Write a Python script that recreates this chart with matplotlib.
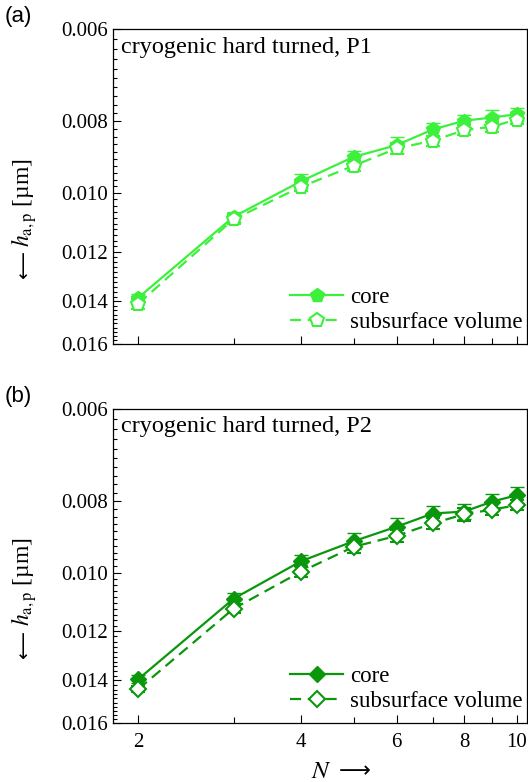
import matplotlib
matplotlib.use("Agg")
import matplotlib.pyplot as plt
from matplotlib.lines import Line2D
from matplotlib.ticker import FixedLocator, NullFormatter, FormatStrFormatter

plt.rcParams['font.family'] = ['Liberation Serif', 'DejaVu Serif']
plt.rcParams['mathtext.fontset'] = 'stix'

N = [2, 3, 4, 5, 6, 7, 8, 9, 10]

# panel (a) P1
core_a = [0.01385, 0.01077, 0.00964, 0.00894, 0.00862, 0.00821, 0.00799, 0.00791, 0.00783]
core_a_err = [0.00014, 0.00017, 0.00020, 0.00017, 0.00021, 0.00017, 0.00015, 0.00018, 0.00016]
sub_a = [0.01411, 0.01085, 0.00981, 0.00919, 0.00871, 0.00850, 0.00823, 0.00814, 0.00796]
sub_a_err = [0.00022, 0.00017, 0.00013, 0.00014, 0.00014, 0.00013, 0.00013, 0.00013, 0.00012]

# panel (b) P2
core_b = [0.01394, 0.01085, 0.00965, 0.00907, 0.00867, 0.00832, 0.00827, 0.00802, 0.00786]
core_b_err = [0.00018, 0.00019, 0.00019, 0.00023, 0.00022, 0.00019, 0.00020, 0.00020, 0.00019]
sub_b = [0.01438, 0.01119, 0.00997, 0.00923, 0.00892, 0.00858, 0.00834, 0.00822, 0.00811]
sub_b_err = [0.00015, 0.00017, 0.00018, 0.00017, 0.00016, 0.00015, 0.00017, 0.00014, 0.00013]

yticks = [0.006, 0.008, 0.010, 0.012, 0.014, 0.016]
yminor = [0.006 + 0.0002 * i for i in range(51)]
xticks = [2, 4, 6, 8, 10]
xminor = [3, 5, 7, 9]

panels = [
    dict(core=core_a, core_err=core_a_err, sub=sub_a, sub_err=sub_a_err,
         color='#3cf03c', marker='p', ms=10.5, title='cryogenic hard turned, P1', tag='(a)'),
    dict(core=core_b, core_err=core_b_err, sub=sub_b, sub_err=sub_b_err,
         color='#0b970b', marker='D', ms=8.5, title='cryogenic hard turned, P2', tag='(b)'),
]

fig = plt.figure(figsize=(5.28, 7.82), dpi=100)
rects = [[0.2146, 0.560, 0.7834, 0.4034], [0.2146, 0.075, 0.7834, 0.4025]]
dash = (0, (5, 3))

for i, (p, r) in enumerate(zip(panels, rects)):
    ax = fig.add_axes(r)
    c = p['color']
    ax.errorbar(N, p['core'], yerr=p['core_err'], color=c, lw=1.6, marker=p['marker'],
                ms=p['ms'], mfc=c, mec=c, capsize=5, elinewidth=1.0, capthick=1.0,
                zorder=3)
    ax.errorbar(N, p['sub'], yerr=p['sub_err'], color=c, lw=1.6, ls=dash,
                marker=p['marker'], ms=p['ms'], mfc='white', mec=c, mew=1.5,
                capsize=5, elinewidth=1.0, capthick=1.0, zorder=4)
    ax.set_xscale('log')
    ax.set_yscale('log')
    ax.set_xlim(1.798, 10.45)
    ax.set_ylim(0.016, 0.006)
    ax.yaxis.set_major_locator(FixedLocator(yticks))
    ax.yaxis.set_minor_locator(FixedLocator(yminor))
    ax.yaxis.set_major_formatter(FormatStrFormatter('%.3f'))
    ax.yaxis.set_minor_formatter(NullFormatter())
    ax.xaxis.set_major_locator(FixedLocator(xticks))
    ax.xaxis.set_minor_locator(FixedLocator(xminor))
    ax.xaxis.set_minor_formatter(NullFormatter())
    if i == 0:
        ax.xaxis.set_major_formatter(NullFormatter())
    else:
        ax.xaxis.set_major_formatter(FormatStrFormatter('%d'))
    ax.tick_params(which='both', direction='in', labelsize=15, top=False, right=False)
    ax.tick_params(which='major', length=6, width=0.8)
    ax.tick_params(which='minor', length=3, width=0.8)
    ax.tick_params(axis='x', which='minor', length=4)
    ax.tick_params(axis='x', pad=7)
    for s in ax.spines.values():
        s.set_linewidth(0.9)
    ax.text(0.018, 0.975, p['title'], transform=ax.transAxes, ha='left', va='top', fontsize=17.5)
    handles = [
        Line2D([], [], color=c, lw=1.6, marker=p['marker'], ms=p['ms'], mfc=c, mec=c),
        Line2D([], [], color=c, lw=1.6, ls=dash, marker=p['marker'], ms=p['ms'],
               mfc='white', mec=c, mew=1.5),
    ]
    ax.legend(handles, ['core', 'subsurface volume'], loc='lower right', frameon=False,
              fontsize=16.5, handlelength=2.3, handletextpad=0.3, borderaxespad=0.1,
              labelspacing=0.15, bbox_to_anchor=(1.017, 0.0))
    ax.text(-0.215, 0.45, '$h_{\\mathrm{a,p}}$ [µm]', transform=ax.transAxes,
            rotation=90, ha='center', va='center', fontsize=17)
    ax.text(-0.215, 0.25, '⟵', transform=ax.transAxes, family=['DejaVu Sans'],
            rotation=90, ha='center', va='center', fontsize=14)
    fig.text(0.008, r[1] + r[3] + 0.015, p['tag'], family=['Liberation Sans', 'DejaVu Sans'],
             fontsize=16, ha='left', va='center')
    if i == 1:
        ax.text(0.502, -0.155, '$N$', transform=ax.transAxes, ha='center', va='center',
                fontsize=18)
        ax.text(0.584, -0.152, '⟶', transform=ax.transAxes, family=['DejaVu Sans'],
                ha='center', va='center', fontsize=16)

fig.savefig('out.png', dpi=100)
